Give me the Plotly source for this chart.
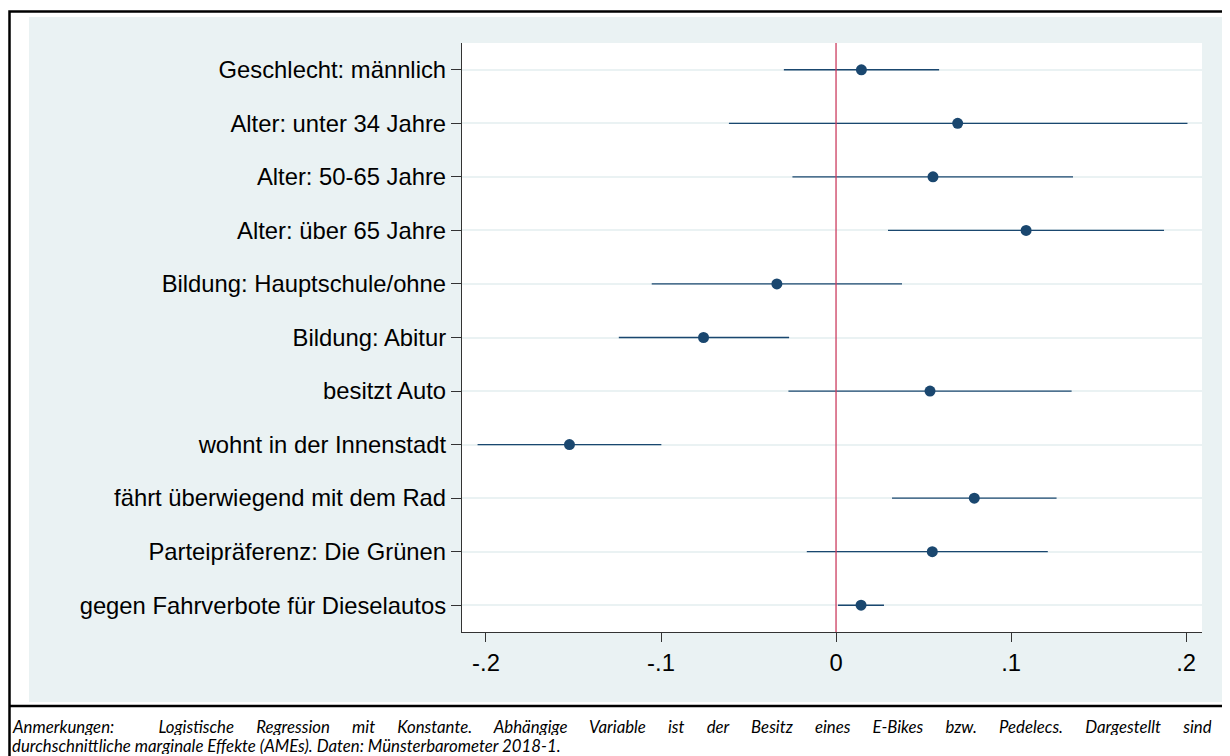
import plotly.graph_objects as go

labels = [
    "Geschlecht: männlich",
    "Alter: unter 34 Jahre",
    "Alter: 50-65 Jahre",
    "Alter: über 65 Jahre",
    "Bildung: Hauptschule/ohne",
    "Bildung: Abitur",
    "besitzt Auto",
    "wohnt in der Innenstadt",
    "fährt überwiegend mit dem Rad",
    "Parteipräferenz: Die Grünen",
    "gegen Fahrverbote für Dieselautos",
]
est = [0.0145, 0.0695, 0.0554, 0.1086, -0.0338, -0.0757, 0.0537, -0.1523, 0.0790, 0.0550, 0.0143]
lo = [-0.0298, -0.0612, -0.0249, 0.0297, -0.1053, -0.1241, -0.0272, -0.2048, 0.0320, -0.0167, 0.0011]
hi = [0.0589, 0.2008, 0.1354, 0.1874, 0.0377, -0.0268, 0.1346, -0.0998, 0.1260, 0.1210, 0.0274]
xticks = [-0.2, -0.1, 0, 0.1, 0.2]
xticktext = ["-.2", "-.1", "0", ".1", ".2"]
footer1 = ("Anmerkungen:\u00a0 Logistische Regression mit Konstante. Abhängige Variable ist der "
           "Besitz eines E-Bikes bzw. Pedelecs. Dargestellt sind")
footer2 = "durchschnittliche marginale Effekte (AMEs). Daten: Münsterbarometer 2018-1."

ypos = list(range(1, len(labels) + 1))

# page body has an 8px margin; figure coordinates = reference coordinates - 8
OFF = 8
W, H = 1230 - OFF, 756 - OFF
L, R, T, B = 462 - OFF, 1202 - OFF, 43 - OFF, 632 - OFF


def px(x):
    return (x - OFF - L) / (R - L)


def py(y):
    return (B - (y - OFF)) / (B - T)


NAVY = "#1A476F"
fig = go.Figure()
fig.add_trace(go.Scatter(
    x=est, y=ypos, mode="markers",
    marker=dict(color=NAVY, size=11, line=dict(width=0)),
    error_x=dict(type="data", symmetric=False,
                 array=[h - e for h, e in zip(hi, est)],
                 arrayminus=[e - l for e, l in zip(est, lo)],
                 color=NAVY, thickness=1.3, width=0),
    showlegend=False, hoverinfo="skip",
))

shapes = [
    # gray background
    dict(type="rect", xref="paper", yref="paper", layer="below",
         x0=px(29), x1=px(1227), y0=py(17), y1=py(702),
         fillcolor="#EAF2F3", line=dict(width=0)),
    # white plot region
    dict(type="rect", xref="paper", yref="paper", layer="below",
         x0=0, x1=1, y0=0, y1=1, fillcolor="white", line=dict(width=0)),
    # outer frame
    dict(type="rect", xref="paper", yref="paper",
         x0=px(9.5), x1=px(1250), y0=py(11.5), y1=py(780),
         line=dict(color="black", width=2.5)),
    # footer separator
    dict(type="line", xref="paper", yref="paper",
         x0=px(9.5), x1=px(1250), y0=py(706), y1=py(706),
         line=dict(color="black", width=2.5)),
    # zero line
    dict(type="line", xref="x", yref="paper", x0=0, x1=0, y0=0, y1=1,
         line=dict(color="#CC3D5F", width=1.3)),
]

FOOT_FONT = dict(family="Lato", size=16.8, color="black", style="italic")
annotations = [
    dict(xref="paper", yref="paper", x=px(10), y=py(726), xanchor="left", yanchor="middle",
         text='<span style="word-spacing:18.2px">' + footer1 + "</span>", showarrow=False,
         font=FOOT_FONT, height=18, valign="middle"),
    dict(xref="paper", yref="paper", x=px(10), y=py(745.5), xanchor="left", yanchor="middle",
         text=footer2, showarrow=False, font=FOOT_FONT, height=18, valign="middle"),
]

fig.update_layout(
    width=W, height=H, autosize=False,
    margin=dict(l=L, r=W - R, t=T, b=H - B, pad=0),
    paper_bgcolor="white", plot_bgcolor="rgba(0,0,0,0)",
    shapes=shapes, annotations=annotations,
    font=dict(family="Arial, Liberation Sans, sans-serif", size=23.8, color="black"),
    xaxis=dict(range=[-0.2137, 0.2091], tickvals=xticks, ticktext=xticktext,
               showgrid=False, zeroline=False, showline=True, linecolor="#333333",
               linewidth=1.3, ticks="outside", ticklen=9, tickcolor="#333333",
               tickwidth=1.3, ticklabelstandoff=0),
    yaxis=dict(range=[11.5, 0.5], tickvals=ypos, ticktext=labels,
               showgrid=True, gridcolor="#EAF2F3", gridwidth=2.2, zeroline=False,
               showline=True, linecolor="#333333", linewidth=1.3,
               ticks="outside", ticklen=10, tickcolor="#333333", tickwidth=1.3,
               ticklabelstandoff=0),
)

fig.write_html("out.html")
